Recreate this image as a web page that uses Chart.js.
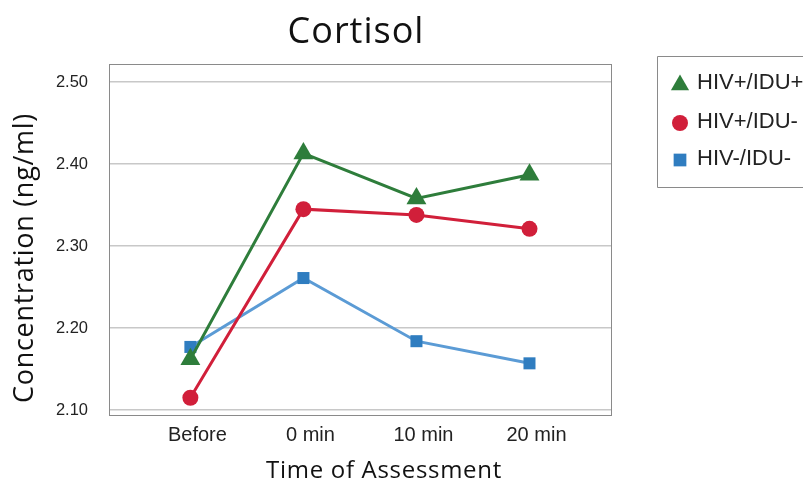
<!DOCTYPE html>
<html lang="en">
<head>
    <meta charset="UTF-8">
    <title>Cortisol</title>
    <script src="https://cdn.jsdelivr.net/npm/chart.js"></script>
    <style>
        body { margin: 0; background: #fff; overflow: hidden; }
    </style>
</head>
<body>
    <canvas id="cortisolChart" width="803" height="484"></canvas>

    <script>
        // values
        const categories = ['Before', '0 min', '10 min', '20 min'];
        const hivPosIduPos = [2.162, 2.413, 2.358, 2.387];
        const hivPosIduNeg = [2.115, 2.345, 2.338, 2.321];
        const hivNegIduNeg = [2.177, 2.261, 2.184, 2.157];
        const yTicks = [2.10, 2.20, 2.30, 2.40, 2.50];
        const seriesNames = ['HIV+/IDU+', 'HIV+/IDU-', 'HIV-/IDU-'];

        const toPoints = arr => arr.map((v, i) => ({ x: i, y: v }));

        // titles, plot frame and the boxed legend
        const decorations = {
            id: 'decorations',
            afterDraw(chart) {
                const ctx = chart.ctx;
                const a = chart.chartArea;
                ctx.save();

                ctx.strokeStyle = '#8a8a8a';
                ctx.lineWidth = 1;
                ctx.strokeRect(Math.round(a.left) + 0.5, Math.round(a.top) + 0.5,
                    Math.round(a.right - a.left) - 1, Math.round(a.bottom - a.top));

                ctx.fillStyle = '#111';
                ctx.textAlign = 'center';
                ctx.textBaseline = 'alphabetic';
                ctx.letterSpacing = '1px';
                ctx.font = '36px "Open Sans"';
                ctx.fillText('Cortisol', 356, 43);

                ctx.letterSpacing = '0.7px';
                ctx.font = '24px "Open Sans"';
                ctx.fillText('Time of Assessment', 384, 478);

                ctx.save();
                ctx.translate(33, 258);
                ctx.rotate(-Math.PI / 2);
                ctx.letterSpacing = '0.7px';
                ctx.font = '27px "Open Sans"';
                ctx.fillText('Concentration (ng/ml)', 0, 0);
                ctx.restore();
                ctx.letterSpacing = '0px';

                // legend box (its right side runs off the canvas)
                ctx.strokeStyle = '#8a8a8a';
                ctx.beginPath();
                ctx.moveTo(820, 56.5);
                ctx.lineTo(657.5, 56.5);
                ctx.lineTo(657.5, 187.5);
                ctx.lineTo(820, 187.5);
                ctx.stroke();
                const rows = [85, 123, 160];
                const textRows = [83, 122, 159];
                const legendRadius = [10.5, 8, 9];
                ctx.textAlign = 'left';
                ctx.textBaseline = 'middle';
                ctx.font = '22px "Liberation Sans"';
                chart.data.datasets.forEach((ds, i) => {
                    ctx.fillStyle = ds.pointBackgroundColor;
                    Chart.helpers.drawPoint(ctx, {
                        pointStyle: ds.pointStyle,
                        radius: legendRadius[i],
                        rotation: 0,
                        borderWidth: 0
                    }, 680, rows[i]);
                    ctx.fillStyle = '#222';
                    ctx.fillText(ds.label, 697, textRows[i]);
                });

                ctx.restore();
            }
        };

        new Chart(document.getElementById('cortisolChart'), {
            type: 'line',
            data: {
                datasets: [
                    {
                        label: seriesNames[0],
                        data: toPoints(hivPosIduPos),
                        borderColor: '#2e7d3b',
                        backgroundColor: '#2e7d3b',
                        pointBackgroundColor: '#2e7d3b',
                        pointBorderWidth: 0,
                        pointStyle: 'triangle',
                        pointRadius: 11.5,
                        borderWidth: 3,
                        order: 1
                    },
                    {
                        label: seriesNames[1],
                        data: toPoints(hivPosIduNeg),
                        borderColor: '#d11f3a',
                        backgroundColor: '#d11f3a',
                        pointBackgroundColor: '#d11f3a',
                        pointBorderWidth: 0,
                        pointStyle: 'circle',
                        pointRadius: 8,
                        borderWidth: 3,
                        order: 0
                    },
                    {
                        label: seriesNames[2],
                        data: toPoints(hivNegIduNeg),
                        borderColor: '#5b9bd5',
                        backgroundColor: '#2f7dc0',
                        pointBackgroundColor: '#2f7dc0',
                        pointBorderWidth: 0,
                        pointStyle: 'rect',
                        pointRadius: 8.5,
                        borderWidth: 3,
                        order: 2
                    }
                ]
            },
            options: {
                responsive: false,
                animation: false,
                layout: { padding: { top: 64, right: 191, left: 0, bottom: 0 } },
                plugins: {
                    legend: { display: false },
                    title: { display: false },
                    tooltip: { enabled: false }
                },
                scales: {
                    x: {
                        type: 'linear',
                        min: -0.72,
                        max: 3.73,
                        afterBuildTicks: s => { s.ticks = categories.map((c, i) => ({ value: i })); },
                        afterFit: s => { s.height = 69; },
                        grid: { display: false, drawTicks: false },
                        border: { display: false },
                        ticks: {
                            padding: 8,
                            labelOffset: 7,
                            color: '#222',
                            font: { family: 'Liberation Sans', size: 20 },
                            callback: v => categories[v]
                        }
                    },
                    y: {
                        min: 2.094,
                        max: 2.522,
                        afterBuildTicks: s => { s.ticks = yTicks.map(v => ({ value: v })); },
                        afterFit: s => { s.width = 109; },
                        grid: { color: '#c8c8c8', lineWidth: 1.5, drawTicks: false },
                        border: { display: false },
                        ticks: {
                            padding: 21,
                            color: '#222',
                            font: { family: 'Liberation Sans', size: 16.5 },
                            callback: v => v.toFixed(2)
                        }
                    }
                }
            },
            plugins: [decorations]
        });
    </script>
</body>
</html>
